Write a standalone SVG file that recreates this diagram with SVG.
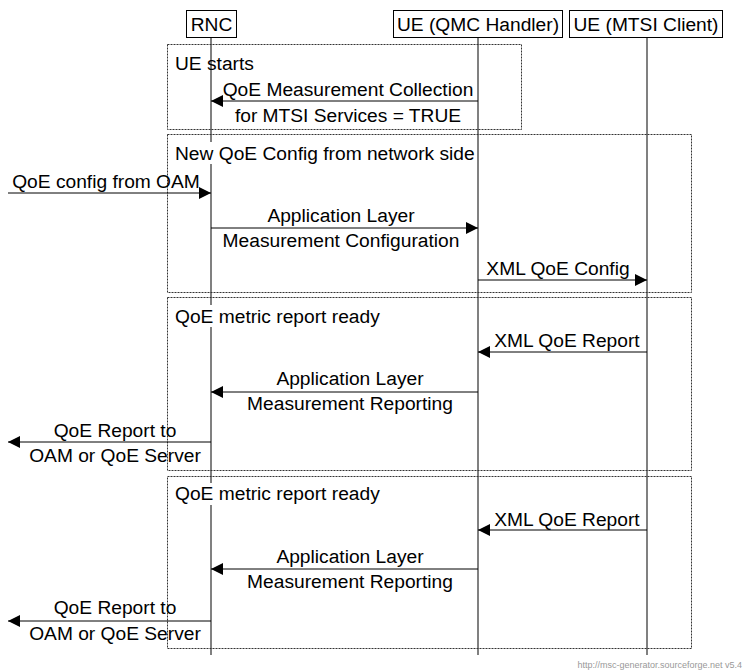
<svg xmlns="http://www.w3.org/2000/svg" width="744" height="671" viewBox="0 0 744 671">
<style>
text{font-family:"Liberation Sans",Arial,sans-serif;font-size:19.2px;fill:#000}
.c{text-anchor:middle}
.life{stroke:#808080;stroke-width:2;fill:none}
.hdr{fill:#fff;stroke:#000;stroke-width:1}
.box{fill:none;stroke:#333;stroke-width:1;stroke-dasharray:2,1}
.msg{stroke:#000;stroke-width:1;fill:none;marker-end:url(#ah)}
.bg{fill:#fff}
.wm{font-size:9px;fill:#999;text-anchor:end}
</style>
<defs>
<marker id="ah" markerUnits="userSpaceOnUse" markerWidth="14" markerHeight="14" viewBox="0 0 14 14" refX="13" refY="7" orient="auto">
<path d="M1,1 L13,7 L1,13 Z" fill="#000"/>
</marker>
</defs>
<g id="lifelines">
<line class="life" x1="211" y1="37" x2="211" y2="655"/>
<line class="life" x1="478" y1="37" x2="478" y2="655"/>
<line class="life" x1="647" y1="37" x2="647" y2="655"/>
</g>
<g id="entities">
<g id="rnc"><rect class="hdr" x="186.5" y="10.5" width="50" height="27"/><text class="c" x="211.5" y="31">RNC</text></g>
<g id="qmc"><rect class="hdr" x="393.5" y="10.5" width="169" height="27"/><text class="c" x="478" y="31">UE (QMC Handler)</text></g>
<g id="mtsi"><rect class="hdr" x="569.5" y="10.5" width="153" height="27"/><text class="c" x="646" y="31">UE (MTSI Client)</text></g>
</g>
<g id="box1">
<rect class="box" x="167.5" y="44.5" width="354" height="85"/>
<text x="175" y="70">UE starts</text>
</g>
<g id="box2">
<rect class="box" x="167.5" y="134.5" width="524" height="158"/>
<rect class="bg" x="173" y="142" width="303" height="22"/>
<text x="175" y="160">New QoE Config from network side</text>
</g>
<g id="box3">
<rect class="box" x="167.5" y="297.5" width="524" height="173"/>
<rect class="bg" x="173" y="305" width="210" height="22"/>
<text x="175" y="323">QoE metric report ready</text>
</g>
<g id="box4">
<rect class="box" x="167.5" y="476.5" width="524" height="172"/>
<rect class="bg" x="173" y="483" width="210" height="22"/>
<text x="175" y="500">QoE metric report ready</text>
</g>
<g id="connectors">
<line class="msg" x1="478" y1="101" x2="211" y2="101"/>
<line class="msg" x1="8" y1="193" x2="211" y2="193"/>
<line class="msg" x1="211" y1="228" x2="478" y2="228"/>
<line class="msg" x1="478" y1="280" x2="647" y2="280"/>
<line class="msg" x1="647" y1="352" x2="478" y2="352"/>
<line class="msg" x1="478" y1="392" x2="211" y2="392"/>
<line class="msg" x1="211" y1="442" x2="8" y2="442"/>
<line class="msg" x1="647" y1="530" x2="478" y2="530"/>
<line class="msg" x1="478" y1="569" x2="211" y2="569"/>
<line class="msg" x1="211" y1="621" x2="8" y2="621"/>
</g>
<g id="labels">
<text class="c" x="348" y="96">QoE Measurement Collection</text>
<text class="c" x="348" y="122">for MTSI Services = TRUE</text>
<text class="c" x="106" y="188">QoE config from OAM</text>
<text class="c" x="341" y="222">Application Layer</text>
<text class="c" x="341" y="247">Measurement Configuration</text>
<text class="c" x="558" y="275">XML QoE Config</text>
<text class="c" x="567" y="347">XML QoE Report</text>
<text class="c" x="350" y="385">Application Layer</text>
<text class="c" x="350" y="410">Measurement Reporting</text>
<text class="c" x="115" y="437">QoE Report to</text>
<text class="c" x="115" y="462">OAM or QoE Server</text>
<text class="c" x="567" y="526">XML QoE Report</text>
<text class="c" x="350" y="563">Application Layer</text>
<text class="c" x="350" y="588">Measurement Reporting</text>
<text class="c" x="115" y="614">QoE Report to</text>
<text class="c" x="115" y="640">OAM or QoE Server</text>
</g>
<text class="wm" x="742" y="668">http://msc-generator.sourceforge.net v5.4</text>
</svg>
